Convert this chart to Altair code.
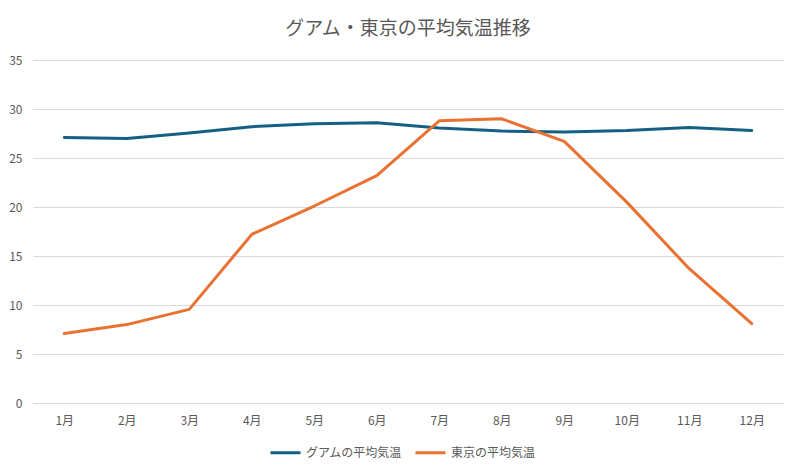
import altair as alt
import pandas as pd

months = ["1月", "2月", "3月", "4月", "5月", "6月", "7月", "8月", "9月", "10月", "11月", "12月"]
guam = [27.1, 27.0, 27.55, 28.2, 28.5, 28.6, 28.05, 27.75, 27.65, 27.8, 28.1, 27.8]
tokyo = [7.1, 8.0, 9.55, 17.2, 20.1, 23.2, 28.8, 29.0, 26.7, 20.5, 13.7, 8.1]
series = ["グアムの平均気温", "東京の平均気温"]
colors = ["#156082", "#E97132"]

rows = []
for name, vals in zip(series, [guam, tokyo]):
    for m, v in zip(months, vals):
        rows.append({"月": m, "気温": v, "系列": name})
df = pd.DataFrame(rows)

font = "Noto Sans CJK JP"

chart = alt.Chart(df).mark_line(strokeWidth=3, strokeCap="round", strokeJoin="round").encode(
    x=alt.X("月:N", sort=months, scale=alt.Scale(type="point", padding=0.5),
            axis=alt.Axis(title=None, labelAngle=0, domain=False, ticks=False, grid=False,
                          labelColor="#595959", labelFontSize=12, labelFont=font, labelPadding=12)),
    y=alt.Y("気温:Q", scale=alt.Scale(domain=[0, 35], nice=False),
            axis=alt.Axis(title=None, values=[0, 5, 10, 15, 20, 25, 30, 35], domain=False, ticks=False,
                          gridColor="#d9d9d9", gridWidth=1, labelColor="#595959", labelFontSize=12,
                          labelFont=font, labelPadding=11)),
    color=alt.Color("系列:N", sort=series, scale=alt.Scale(domain=series, range=colors),
                    legend=alt.Legend(title=None, orient="none", legendX=236, legendY=376,
                                      direction="horizontal", symbolType="stroke", symbolSize=900,
                                      symbolStrokeWidth=3, labelFontSize=12, labelColor="#595959",
                                      labelFont=font, columnPadding=6, labelOffset=4)),
).properties(
    width=750, height=343,
    title=alt.TitleParams("グアム・東京の平均気温推移", fontSize=19, font=font, fontWeight="normal",
                          color="#595959", anchor="middle", offset=15),
    padding={"left": 25, "top": 52, "right": 9, "bottom": 62},
    autosize=alt.AutoSizeParams(type="none"),
).configure(background="white").configure_view(strokeWidth=0, stroke=None)

chart.save("out.html", embed_options={"renderer": "svg", "actions": False})
